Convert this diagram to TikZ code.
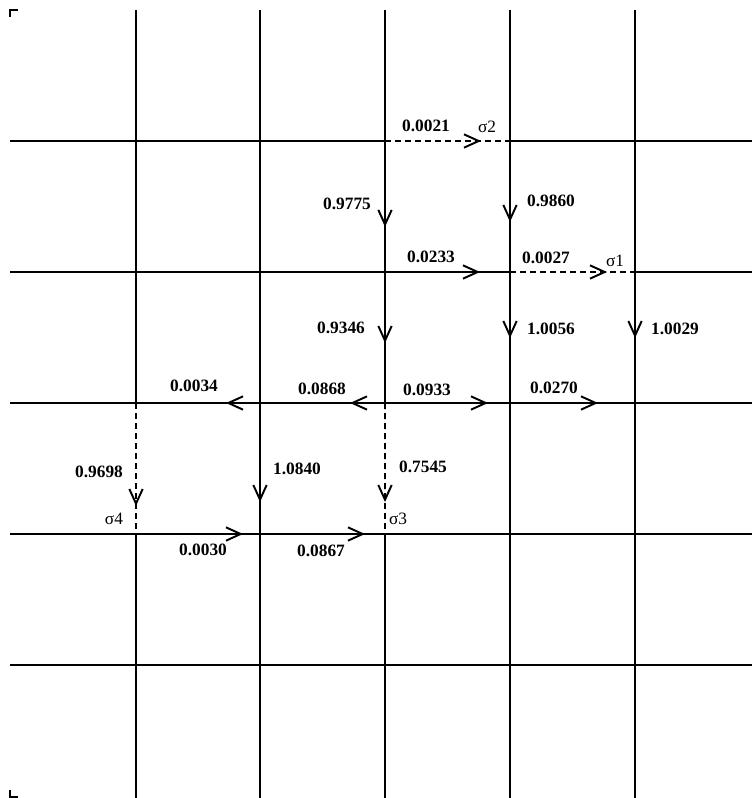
\documentclass[tikz,border=0pt]{standalone}
\usepackage{fontspec}
\setmainfont{Liberation Serif}
\usetikzlibrary{arrows.meta,calc}
\begin{document}
\begin{tikzpicture}[x=0.75pt,y=-0.75pt,
  gridline/.style={line width=1.45pt},
  tipstyle/.style={-{Straight Barb[length=11pt,width=10pt,line width=1.45pt]}},
  flow/.style={line width=1.45pt,tipstyle},
  dashseg/.style={line width=1.45pt,dash pattern=on 4.5pt off 3pt},
  val/.style={font=\fontsize{13}{15}\selectfont\bfseries,inner sep=0pt},
  sig/.style={font=\fontsize{13}{15}\selectfont,inner sep=0pt},
]
\useasboundingbox (0,0) rectangle (752,798);
% corner marks
\draw[line width=1pt] (10,17) -- (10,10) -- (18,10);
\draw[line width=1pt] (10,790) -- (10,797) -- (18,797);
% grid coordinates
\foreach \i/\x in {1/136,2/260,3/385,4/510,5/635}{
  \foreach \j/\y in {1/141,2/272,3/403,4/534,5/665}{
    \coordinate (c-\i-\j) at (\x,\y);
  }
  \coordinate (T-\i) at (\x,10);
  \coordinate (B-\i) at (\x,798);
}
\foreach \j/\y in {1/141,2/272,3/403,4/534,5/665}{
  \coordinate (L-\j) at (10,\y);
  \coordinate (R-\j) at (752,\y);
}
% horizontal grid lines
\draw[gridline] (L-1) -- (c-3-1);
\draw[gridline] (c-4-1) -- (R-1);
\draw[gridline] (L-2) -- (c-4-2);
\draw[gridline] (c-5-2) -- (R-2);
\draw[gridline] (L-3) -- (R-3);
\draw[gridline] (L-4) -- (R-4);
\draw[gridline] (L-5) -- (R-5);
% vertical grid lines
\draw[gridline] (T-1) -- (c-1-3);
\draw[gridline] (c-1-4) -- (B-1);
\draw[gridline] (T-2) -- (B-2);
\draw[gridline] (T-3) -- (c-3-3);
\draw[gridline] (c-3-4) -- (B-3);
\draw[gridline] (T-4) -- (B-4);
\draw[gridline] (T-5) -- (B-5);
% dashed segments
\draw[dashseg] (c-3-1) -- (c-4-1);
\draw[dashseg] (c-4-2) -- (c-5-2);
\draw[dashseg] (c-1-3) -- (c-1-4);
\draw[dashseg] (c-3-3) -- (c-3-4);
% flow arrows (solid edges)
\draw[flow] (c-3-2) -- ($(c-3-2)!0.76!(c-4-2)$);
\draw[flow] (c-3-1) -- ($(c-3-1)!0.656!(c-3-2)$);
\draw[flow] (c-4-1) -- ($(c-4-1)!0.618!(c-4-2)$);
\draw[flow] (c-3-2) -- ($(c-3-2)!0.542!(c-3-3)$);
\draw[flow] (c-4-2) -- ($(c-4-2)!0.504!(c-4-3)$);
\draw[flow] (c-5-2) -- ($(c-5-2)!0.504!(c-5-3)$);
\draw[flow] (c-3-3) -- ($(c-3-3)!0.28!(c-2-3)$);
\draw[flow] (c-2-3) -- ($(c-2-3)!0.274!(c-1-3)$);
\draw[flow] (c-3-3) -- ($(c-3-3)!0.824!(c-4-3)$);
\draw[flow] (c-4-3) -- ($(c-4-3)!0.704!(c-5-3)$);
\draw[flow] (c-2-3) -- ($(c-2-3)!0.756!(c-2-4)$);
\draw[flow] (c-1-4) -- ($(c-1-4)!0.863!(c-2-4)$);
\draw[flow] (c-2-4) -- ($(c-2-4)!0.84!(c-3-4)$);
% flow arrows (dashed edges)
\draw[dashseg,tipstyle] (c-3-1) -- ($(c-3-1)!0.768!(c-4-1)$);
\draw[dashseg,tipstyle] (c-4-2) -- ($(c-4-2)!0.776!(c-5-2)$);
\draw[dashseg,tipstyle] (c-1-3) -- ($(c-1-3)!0.786!(c-1-4)$);
\draw[dashseg,tipstyle] (c-3-3) -- ($(c-3-3)!0.756!(c-3-4)$);
% labels
\node[val] (v1) at (426,126) {0.0021};
\node[sig] (s2) at (487,127) {σ2};
\node[val] (v2) at (431,257) {0.0233};
\node[val] (v3) at (546,258) {0.0027};
\node[sig] (s1) at (615,261) {σ1};
\node[val] (v4) at (347,204) {0.9775};
\node[val] (v5) at (551,201) {0.9860};
\node[val] (v6) at (341,328) {0.9346};
\node[val] (v7) at (551,329) {1.0056};
\node[val] (v8) at (675,329) {1.0029};
\node[val] (v9) at (194,386) {0.0034};
\node[val] (v10) at (322,389) {0.0868};
\node[val] (v11) at (427,390) {0.0933};
\node[val] (v12) at (554,388) {0.0270};
\node[val] (v13) at (99,472) {0.9698};
\node[sig] (s4) at (114,519) {σ4};
\node[val] (v14) at (297,469) {1.0840};
\node[val] (v15) at (423,467) {0.7545};
\node[sig] (s3) at (398,519) {σ3};
\node[val] (v16) at (203,550) {0.0030};
\node[val] (v17) at (321,551) {0.0867};
\end{tikzpicture}
\end{document}
